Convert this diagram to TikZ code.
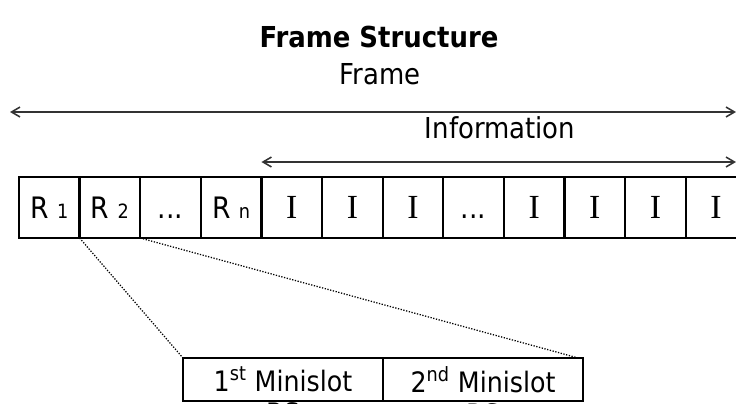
\documentclass[tikz,border=0pt]{standalone}
\usepackage{fontspec}
\setmainfont{DejaVu Sans Condensed}
\newfontfamily\slotserif{Liberation Serif}
\usetikzlibrary{arrows.meta}
\usetikzlibrary{positioning}

\newcommand{\slotidx}[1]{\ {\fontsize{14}{14}\selectfont #1}}

\tikzset{
  slotbox/.style={draw, line width=1.6pt, outer sep=0pt, inner sep=0pt,
    minimum width=1.515cm, minimum height=1.525cm, text height=15pt, text depth=0pt,
    font=\fontsize{21}{24}\selectfont},
  infobox/.style={slotbox, font=\slotserif\fontsize{24}{26}\selectfont},
  minibox/.style={draw, line width=1.6pt, outer sep=0pt, inner sep=0pt,
    minimum width=5cm, minimum height=1.075cm, font=\fontsize{20}{22}\selectfont},
  span/.style={{Straight Barb[length=6pt,width=7pt]}-{Straight Barb[length=6pt,width=7pt]}, line width=1.1pt, black!80},
  zoomline/.style={line width=0.9pt, dash pattern=on 0.9pt off 1.1pt}
}

\begin{document}
\begin{tikzpicture}[x=0.025cm,y=-0.025cm, node distance=0pt]
\useasboundingbox (0,0) rectangle (736,403);
\clip (0,0) rectangle (736,403);

% heading and span labels
\node[font=\bfseries\fontsize{20.5}{22}\selectfont] (title) at (379,37) {Frame Structure};
\node[font=\fontsize{20.5}{22}\selectfont] (framelbl) at (380,74) {Frame};
\node[font=\fontsize{20.5}{22}\selectfont] (infolbl) at (500,128) {Information};

% slots of one frame
\node[slotbox] (r1) at (49.3,207.5) {R\slotidx{1}};
\node[slotbox, right=of r1] (r2) {R\slotidx{2}};
\node[slotbox, right=of r2] (rdots) {...};
\node[slotbox, right=of rdots] (rn) {R\slotidx{n}};
\node[infobox, right=of rn] (i1) {I};
\node[infobox, right=of i1] (i2) {I};
\node[infobox, right=of i2] (i3) {I};
\node[slotbox, right=of i3] (idots) {...};
\node[infobox, right=of idots] (i4) {I};
\node[infobox, right=of i4] (i5) {I};
\node[infobox, right=of i5] (i6) {I};
\node[infobox, right=of i6] (i7) {I};

% span arrows
\coordinate (frameL) at (10,112);
\coordinate (frameR) at (736,112);
\coordinate (infoR) at (736,162);
\draw[span] (frameL) -- (frameR);
\draw[span] (rn.east |- infoR) -- (infoR);

% minislots of R1
\node[minibox] (m1) at (283,379.5) {1\textsuperscript{st} Minislot};
\node[minibox, right=of m1] (m2) {2\textsuperscript{nd} Minislot};
\node[font=\fontsize{20}{22}\selectfont, anchor=base] (rs1) at ([yshift=-0.8cm]m1.base) {RS};
\node[font=\fontsize{20}{22}\selectfont, anchor=base] (rs2) at ([yshift=-0.8cm]m2.base) {RS};

\draw[zoomline] (r1.south east) -- (m1.north west);
\draw[zoomline] (r2.south east) -- ([xshift=-0.12cm]m2.north east);

\end{tikzpicture}
\end{document}
